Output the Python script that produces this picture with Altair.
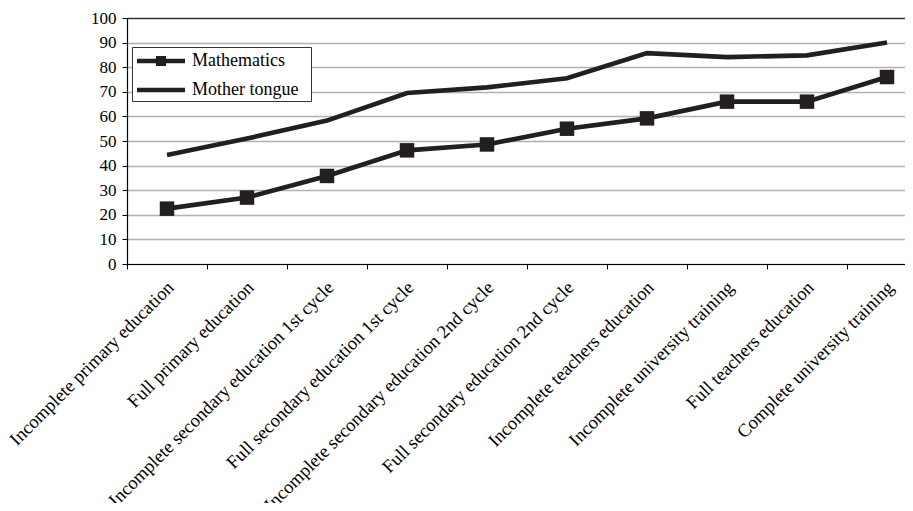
import altair as alt
import pandas as pd

categories = [
    "Incomplete primary education",
    "Full primary education",
    "Incomplete secondary education 1st cycle",
    "Full secondary education 1st cycle",
    "Incomplete secondary education 2nd cycle",
    "Full secondary education 2nd cycle",
    "Incomplete teachers education",
    "Incomplete university training",
    "Full teachers education",
    "Complete university training",
]
mathematics = [22.5, 27.0, 35.8, 46.2, 48.6, 55.0, 59.2, 66.0, 66.0, 76.0]
mother_tongue = [44.3, 51.0, 58.3, 69.5, 71.8, 75.5, 85.7, 84.1, 84.8, 90.0]
series_names = ["Mathematics", "Mother tongue"]
y_ticks = list(range(0, 101, 10))

rows = []
for c, m, t in zip(categories, mathematics, mother_tongue):
    rows.append({"category": c, "series": series_names[0], "value": m})
    rows.append({"category": c, "series": series_names[1], "value": t})
df = pd.DataFrame(rows)

FONT = "Liberation Serif"
INK = "#231f20"

# legend symbols: line with small square / plain line
sym_math = "M-2,-0.18H2V0.18H-2Z M-0.42,-0.42H0.42V0.42H-0.42Z"
sym_mother = "M-2,-0.18H2V0.18H-2Z"

x_enc = alt.X(
    "category:N",
    sort=categories,
    bandPosition=0.5,
    scale=alt.Scale(type="band", paddingInner=0, paddingOuter=0, range=[0, 800]),
    axis=alt.Axis(
        title=None,
        tickBand="extent",
        labelAngle=-45,
        labelAlign="right",
        labelBaseline="middle",
        labelFont=FONT,
        labelFontSize=18.5,
        labelColor="black",
        labelLimit=500,
        labelPadding=15,
        labelOffset=3,
        tickSize=5,
        tickColor="black",
        domainColor="black",
        domainWidth=1.2,
        grid=False,
    ),
)
y_enc = alt.Y(
    "value:Q",
    scale=alt.Scale(domain=[0, 100], nice=False),
    axis=alt.Axis(
        title=None,
        values=y_ticks,
        labelFont=FONT,
        labelFontSize=17,
        labelColor="black",
        labelPadding=6,
        tickSize=5,
        tickColor="black",
        domainColor="black",
        domainWidth=1.2,
        grid=True,
        gridColor=alt.condition("datum.value == 100", alt.value("#333333"), alt.value("#b0b0b0")),
        gridWidth=1.5,
    ),
)

base = alt.Chart(df).encode(x=x_enc, y=y_enc)

lines = base.mark_line(color=INK, strokeWidth=4.6).encode(detail="series:N")

points = base.transform_filter(
    alt.datum.series == "Mathematics"
).mark_point(shape="square", filled=True, size=210, color=INK, opacity=1)

legend_layer = base.transform_filter("false").mark_point(
    filled=True, color=INK, opacity=1
).encode(
    shape=alt.Shape(
        "series:N",
        scale=alt.Scale(domain=series_names, range=[sym_math, sym_mother]),
        legend=alt.Legend(
            title="..",
            titleOrient="right",
            titlePadding=2,
            titleFontSize=18,
            titleFont=FONT,
            titleColor="white",
            labelFont=FONT,
            labelFontSize=18,
            labelColor="black",
            orient="none",
            legendX=5,
            legendY=29,
            symbolSize=576,
            symbolFillColor=INK,
            symbolStrokeColor=INK,
            symbolStrokeWidth=0,
            symbolOpacity=1,
            symbolOffset=15,
            labelOffset=19,
            rowPadding=8,
            padding=2,
            strokeColor="#333333",
            fillColor="white",
        ),
    )
)

chart = alt.layer(lines, points, legend_layer).properties(
    width=778,
    height=246,
    autosize=alt.AutoSizeParams(type="none"),
    padding={"left": 119, "top": 10, "right": 0, "bottom": 239},
).configure_view(stroke=None)

chart.save("out.html", embed_options={"renderer": "svg", "actions": False})
